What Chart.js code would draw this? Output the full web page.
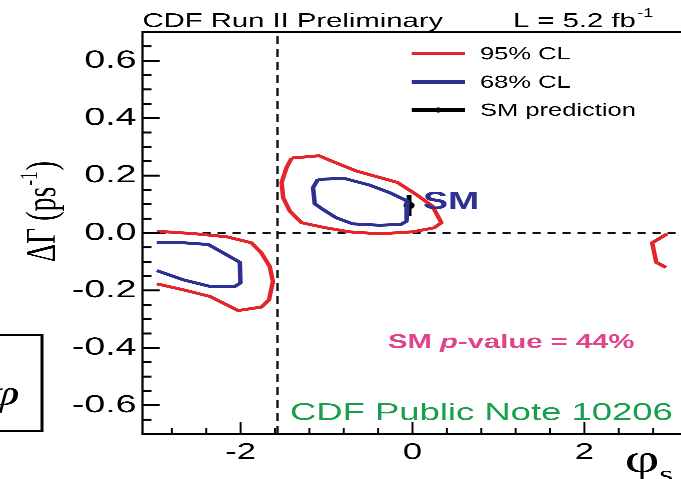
<!DOCTYPE html>
<html>
<head>
<meta charset="utf-8">
<title>phi_s vs DeltaGamma</title>
<script src="https://cdn.jsdelivr.net/npm/chart.js@4"></script>
<style>
  html, body { margin: 0; padding: 0; overflow: hidden; background: #fff; }
  #wrap { width: 460px; height: 479px; transform: scaleX(1.5); transform-origin: 0 0; }
</style>
</head>
<body>
<div id="wrap">
  <canvas id="phiChart" width="460" height="479" style="width:460px;height:479px"></canvas>
</div>
<script>
'use strict';

// 95% CL contours (phi_s, DeltaGamma)
let red95MainPhi = [-1.407, -1.088, -0.944, -0.655, -0.174, 0.039, 0.231, 0.336, 0.251, 0.0, -0.385, -0.733, -1.042, -1.292, -1.427, -1.505, -1.523, -1.465];
let red95MainDG = [0.261, 0.269, 0.251, 0.216, 0.176, 0.135, 0.094, 0.036, 0.018, 0.004, -0.003, 0.004, 0.020, 0.036, 0.076, 0.123, 0.176, 0.228];

let red95LeftPhi = [-2.975, -2.550, -2.164, -1.875, -1.759, -1.662, -1.624, -1.670, -1.759, -2.029, -2.356, -2.666, -2.975];
let red95LeftDG = [0.006, -0.002, -0.013, -0.034, -0.069, -0.116, -0.169, -0.233, -0.258, -0.270, -0.221, -0.198, -0.177];

let red95RightPhi = [2.963, 2.789, 2.836, 2.951];
let red95RightDG = [-0.003, -0.034, -0.102, -0.120];

// 68% CL contours
let blue68MainPhi = [-1.100, -0.791, -0.501, -0.270, -0.058, -0.069, -0.134, -0.385, -0.697, -0.887, -1.042, -1.138, -1.157];
let blue68MainDG = [0.187, 0.190, 0.167, 0.141, 0.111, 0.041, 0.030, 0.027, 0.032, 0.053, 0.082, 0.102, 0.158];

let blue68LeftPhi = [-2.975, -2.666, -2.376, -2.203, -2.009, -2.002, -2.067, -2.356, -2.666, -2.975];
let blue68LeftDG = [-0.032, -0.034, -0.040, -0.069, -0.102, -0.174, -0.186, -0.186, -0.163, -0.131];

// SM prediction
let smPhi = -0.04;
let smDG = 0.096;
let smErr = 0.036;

// dashed reference lines
let refPhi = -1.5708;
let refDG = 0;

let xRange = [-3.14159, 3.14159];
let yRange = [-0.7, 0.7];
let xTickValues = [-2, 0, 2];
let yTickValues = [-0.6, -0.4, -0.2, 0, 0.2, 0.4, 0.6];

const red = '#e3262a';
const blue = '#2e3192';

function toPoints(xs, ys, closed) {
  let pts = xs.map((x, i) => ({ x: x, y: ys[i] }));
  if (closed) {
    pts.push(pts[0]);
  }
  return pts;
}

function contour(points, color) {
  return {
    data: points,
    showLine: true,
    borderColor: color,
    borderWidth: 3,
    pointRadius: 0,
    tension: 0,
    borderJoinStyle: 'round'
  };
}

let datasets = [
  contour(toPoints(red95MainPhi, red95MainDG, true), red),
  contour(toPoints(red95LeftPhi, red95LeftDG, false), red),
  contour(toPoints(red95RightPhi, red95RightDG, false), red),
  contour(toPoints(blue68MainPhi, blue68MainDG, true), blue),
  contour(toPoints(blue68LeftPhi, blue68LeftDG, false), blue),
  {
    data: [{ x: xRange[0], y: refDG }, { x: xRange[1], y: refDG }],
    showLine: true, borderColor: '#111', borderWidth: 1.8, borderDash: [5.5, 4.5], pointRadius: 0
  },
  {
    data: [{ x: refPhi, y: yRange[0] }, { x: refPhi, y: yRange[1] }],
    showLine: true, borderColor: '#111', borderWidth: 1.6, borderDash: [8, 5], pointRadius: 0
  },
  {
    data: [{ x: smPhi, y: smDG - smErr }, { x: smPhi, y: smDG + smErr }],
    showLine: true, borderColor: '#000', borderWidth: 3.3, pointRadius: 0
  },
  {
    data: [{ x: smPhi, y: smDG }],
    showLine: false, backgroundColor: '#000', borderColor: '#000', pointRadius: 3.2
  }
];

// frame, inward ticks, legend and texts
const decorations = {
  id: 'decorations',
  afterDraw(chart) {
    const ctx = chart.ctx;
    const area = chart.chartArea;
    const xs = chart.scales.x;
    const ys = chart.scales.y;
    ctx.save();
    ctx.strokeStyle = '#000';
    ctx.fillStyle = '#000';

    ctx.lineWidth = 2;
    ctx.beginPath();
    ctx.moveTo(area.left, area.top);
    ctx.lineTo(area.right + 10, area.top);
    ctx.moveTo(area.left, area.bottom);
    ctx.lineTo(area.right + 10, area.bottom);
    ctx.stroke();
    ctx.lineWidth = 1.5;
    ctx.beginPath();
    ctx.moveTo(area.left, area.top - 1);
    ctx.lineTo(area.left, area.bottom + 1);
    ctx.stroke();

    ctx.lineWidth = 1.3;
    for (let k = -7; k <= 7; k++) {
      let px = xs.getPixelForValue(k * 0.4);
      let len = (k % 5 === 0) ? 12 : 6;
      ctx.beginPath();
      ctx.moveTo(px, area.bottom);
      ctx.lineTo(px, area.bottom - len);
      ctx.stroke();
    }
    ctx.lineWidth = 2;
    for (let k = -13; k <= 13; k++) {
      let py = ys.getPixelForValue(k * 0.05);
      let len = (k % 4 === 0) ? 11.5 : 6;
      ctx.beginPath();
      ctx.moveTo(area.left, py);
      ctx.lineTo(area.left + len, py);
      ctx.stroke();
    }

    // header
    ctx.textBaseline = 'alphabetic';
    ctx.textAlign = 'left';
    ctx.font = '19.5px "Liberation Sans"';
    ctx.fillText('CDF Run II Preliminary', 95, 27);
    ctx.fillText('L = 5.2 fb', 342, 27);
    let lw = ctx.measureText('L = 5.2 fb').width;
    ctx.font = '12px "Liberation Sans"';
    ctx.fillText('-1', 342 + lw + 1, 17);

    // legend
    let legend = [
      { text: '95% CL', color: red, y: 53.5, dot: false },
      { text: '68% CL', color: blue, y: 82, dot: false },
      { text: 'SM prediction', color: '#000', y: 110, dot: true }
    ];
    ctx.font = '17px "Liberation Sans"';
    ctx.textBaseline = 'middle';
    legend.forEach(item => {
      ctx.strokeStyle = item.color;
      ctx.lineWidth = 3.3;
      ctx.beginPath();
      ctx.moveTo(274.5, item.y);
      ctx.lineTo(310, item.y);
      ctx.stroke();
      if (item.dot) {
        ctx.beginPath();
        ctx.arc(292.2, item.y, 2.6, 0, Math.PI * 2);
        ctx.fill();
      }
      ctx.fillStyle = '#000';
      ctx.fillText(item.text, 320, item.y + 1);
    });

    // SM label
    ctx.fillStyle = blue;
    ctx.font = 'bold 25px "Liberation Sans"';
    ctx.fillText('SM', 282, 202);

    // p-value
    ctx.textBaseline = 'alphabetic';
    ctx.fillStyle = '#e0448c';
    let px = 258.7;
    ctx.font = 'bold 19.5px "Liberation Sans"';
    ctx.fillText('SM ', px, 348);
    px += ctx.measureText('SM ').width;
    ctx.font = 'italic bold 19.5px "Liberation Sans"';
    ctx.fillText('p', px, 348);
    px += ctx.measureText('p').width;
    ctx.font = 'bold 19.5px "Liberation Sans"';
    ctx.fillText('-value = 44%', px, 348);

    // public note
    ctx.fillStyle = '#1a9f4e';
    ctx.font = '24.3px "Liberation Sans"';
    ctx.fillText('CDF Public Note 10206', 193.3, 420);

    // axis titles
    ctx.fillStyle = '#000';
    ctx.font = '40px "Liberation Serif"';
    ctx.fillText('\u03c6', 416.5, 472);
    ctx.font = '24px "Liberation Serif"';
    ctx.fillText('s', 439.5, 482);

    ctx.save();
    ctx.translate(36.5, 262);
    ctx.rotate(-Math.PI / 2);
    ctx.font = '28px "Liberation Serif"';
    ctx.fillText('\u0394\u0393 (ps', 0, 0);
    let tw = ctx.measureText('\u0394\u0393 (ps').width;
    ctx.font = '17px "Liberation Serif"';
    ctx.fillText('-1', tw + 1, -12);
    let sw = ctx.measureText('-1').width;
    ctx.font = '28px "Liberation Serif"';
    ctx.fillText(')', tw + sw + 2, 0);
    ctx.restore();

    // boxed symbol at the left edge
    ctx.strokeStyle = '#000';
    ctx.lineWidth = 2;
    ctx.strokeRect(-3, 335, 31, 96);
    ctx.font = 'italic 36px "Liberation Serif"';
    ctx.textAlign = 'right';
    ctx.fillText('\u03c6', 13, 405);

    ctx.restore();
  }
};

const ctx = document.getElementById('phiChart');

let config = {
  type: 'scatter',
  data: { datasets: datasets },
  options: {
    responsive: false,
    animation: false,
    devicePixelRatio: 3,
    layout: { padding: { left: 0, right: 3.5, top: 32, bottom: 0 } },
    plugins: { legend: { display: false }, tooltip: { enabled: false } },
    scales: {
      x: {
        type: 'linear',
        min: xRange[0],
        max: xRange[1],
        afterBuildTicks: s => { s.ticks = xTickValues.map(v => ({ value: v })); },
        afterFit: s => { s.height = 45; },
        grid: { display: false, drawTicks: false },
        border: { display: false },
        ticks: {
          padding: 5,
          color: '#000',
          font: { family: 'Liberation Sans', size: 23 },
          callback: v => String(v)
        }
      },
      y: {
        min: yRange[0],
        max: yRange[1],
        afterBuildTicks: s => { s.ticks = yTickValues.map(v => ({ value: v })); },
        afterFit: s => { s.width = 95; },
        grid: { display: false, drawTicks: false },
        border: { display: false },
        ticks: {
          padding: 4,
          color: '#000',
          font: { family: 'Liberation Sans', size: 25 },
          callback: v => v.toFixed(1)
        }
      }
    }
  },
  plugins: [decorations]
};

let myChart = new Chart(ctx, config);
</script>
</body>
</html>
